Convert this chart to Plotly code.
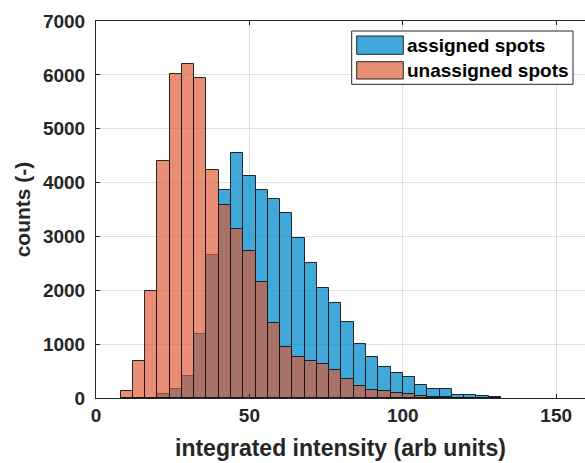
import plotly.graph_objects as go

# ---- data ----
bin_width = 4
bin_left = [8, 12, 16, 20, 24, 28, 32, 36, 40, 44, 48, 52, 56, 60, 64, 68, 72, 76,
            80, 84, 88, 92, 96, 100, 104, 108, 112, 116, 120, 124, 128]
assigned = [0, 0, 5, 69, 174, 403, 1195, 2662, 3869, 4549, 4130, 3870, 3702, 3432,
            2978, 2507, 2050, 1771, 1405, 997, 761, 576, 464, 384, 249, 167, 167,
            63, 63, 45, 19]
unassigned = [130, 681, 1981, 4407, 6010, 6196, 5942, 4235, 3575, 3130, 2725, 2145,
              1387, 954, 761, 681, 638, 514, 362, 230, 156, 125, 97, 74, 45, 19, 10,
              4, 2, 1, 0]
series_names = ["assigned spots", "unassigned spots"]
x_ticks = [0, 50, 100, 150]
y_ticks = [0, 1000, 2000, 3000, 4000, 5000, 6000, 7000]

centers = [b + bin_width / 2 for b in bin_left]

BLUE = "rgba(0,140,205,0.75)"
ORANGE = "rgba(220,88,52,0.68)"
EDGE = "rgba(20,20,20,0.9)"
TXT = "#262626"
FONT = "Liberation Sans"

W, H = 585, 463
ML, MR, MT, MB = 96, 0, 21, 65
PW, PH = W - ML - MR, H - MT - MB


def px(xp):
    return (xp - ML) / PW


def py(yp):
    return (H - MB - yp) / PH


fig = go.Figure()
fig.add_trace(go.Bar(x=centers, y=assigned, width=bin_width, name=series_names[0],
                     marker=dict(color=BLUE, line=dict(color=EDGE, width=1)),
                     showlegend=False))
fig.add_trace(go.Bar(x=centers, y=unassigned, width=bin_width, name=series_names[1],
                     marker=dict(color=ORANGE, line=dict(color=EDGE, width=1)),
                     showlegend=False))

# custom legend (MATLAB-style wide swatches)
shapes = [
    dict(type="rect", xref="paper", yref="paper", x0=px(351.7), x1=px(573),
         y0=py(84.3), y1=py(31), fillcolor="white", line=dict(color=TXT, width=1),
         layer="above"),
    dict(type="rect", xref="paper", yref="paper", x0=px(356.7), x1=px(403.3),
         y0=py(54.3), y1=py(36), fillcolor=BLUE, line=dict(color=EDGE, width=1),
         layer="above"),
    dict(type="rect", xref="paper", yref="paper", x0=px(356.7), x1=px(403.3),
         y0=py(79), y1=py(61.7), fillcolor=ORANGE, line=dict(color=EDGE, width=1),
         layer="above"),
]
annotations = [
    dict(xref="paper", yref="paper", x=px(405), y=py(45.2), text=series_names[0],
         showarrow=False, xanchor="left", yanchor="middle",
         font=dict(family=FONT, size=19, color="black", weight="bold")),
    dict(xref="paper", yref="paper", x=px(405), y=py(70.4), text=series_names[1],
         showarrow=False, xanchor="left", yanchor="middle",
         font=dict(family=FONT, size=19, color="black", weight="bold")),
]

fig.update_layout(
    width=W, height=H,
    margin=dict(l=ML, r=MR, t=MT, b=MB, pad=0),
    paper_bgcolor="white", plot_bgcolor="white",
    barmode="overlay", bargap=0,
    font=dict(family=FONT, size=19, color=TXT, weight="bold"),
    shapes=shapes, annotations=annotations,
    xaxis=dict(range=[0, 159.4], tickvals=x_ticks, ticktext=[str(v) for v in x_ticks],
               showgrid=True, gridcolor="#dfdfdf", gridwidth=1,
               showline=True, linecolor=TXT, linewidth=1, mirror="ticks",
               ticks="inside", ticklen=4, tickcolor=TXT, zeroline=False,
               title=dict(text="integrated intensity (arb units)",
                          font=dict(size=23, family=FONT, weight="bold"), standoff=15)),
    yaxis=dict(range=[0, 7000], tickvals=y_ticks, ticktext=[str(v) for v in y_ticks],
               showgrid=True, gridcolor="#dfdfdf", gridwidth=1,
               showline=True, linecolor=TXT, linewidth=1,
               ticks="inside", ticklen=4, tickcolor=TXT, zeroline=False,
               ticklabelstandoff=6,
               title=dict(text="counts (-)",
                          font=dict(size=21, family=FONT, weight="bold"), standoff=6)),
)

fig.write_html("out.html")
